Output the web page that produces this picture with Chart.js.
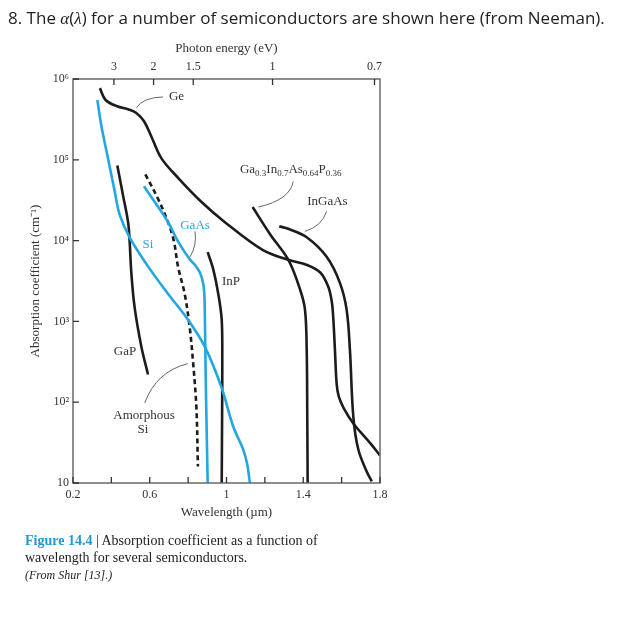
<!DOCTYPE html>
<html>
<head>
<meta charset="utf-8">
<script src="https://cdn.jsdelivr.net/npm/chart.js@4/dist/chart.umd.min.js"></script>
<style>
  body { margin: 0; background: #fff; }
  #wrap { position: relative; width: 632px; height: 620px; }
  #q { position: absolute; left: 8px; top: 6px; font: 17px "Open Sans", sans-serif; color: #222; white-space: nowrap; }
  #q i { font-family: "Liberation Serif", serif; }
  #cap { position: absolute; left: 25px; top: 532px; font: 14px "Liberation Serif", serif; color: #222; line-height: 17px; }
  #cap b { color: #1f9ad6; }
  #cap .src { font-style: italic; font-size: 12px; }
</style>
</head>
<body>
<div id="wrap">
  <canvas id="c" width="632" height="620"></canvas>
  <div id="q">8. The <i>α</i>(<i>λ</i>) for a number of semiconductors are shown here (from Neeman).</div>
  <div id="cap"><b>Figure 14.4</b> | Absorption coefficient as a function of<br>wavelength for several semiconductors.<br><span class="src">(From Shur [13].)</span></div>
</div>
<script>
// Achsen
const wavelengthTicks = [0.2, 0.4, 0.6, 0.8, 1, 1.2, 1.4, 1.6, 1.8];
const wavelengthLabels = [0.2, 0.6, 1, 1.4, 1.8];
const energyTicks = [3, 2, 1.5, 1, 0.7];
const alphaTicks = [10, 1e2, 1e3, 1e4, 1e5, 1e6];

// Kurven (Wellenlänge in µm, alpha in 1/cm)
const geLam   = [0.34, 0.37, 0.43, 0.49, 0.53, 0.57, 0.61, 0.66, 0.75, 0.87, 0.99, 1.19, 1.32, 1.42, 1.49, 1.53, 1.548, 1.556, 1.565, 1.574, 1.585, 1.61, 1.66, 1.75, 1.80];
const geAlpha = [7.7e5, 5.5e5, 4.6e5, 4.2e5, 3.8e5, 3.0e5, 1.9e5, 1.05e5, 5.9e4, 3.0e4, 1.7e4, 7.6e3, 5.8e3, 5.0e3, 4.0e3, 2.7e3, 1.8e3, 1.15e3, 450, 170, 118, 85, 55, 31, 22];

const siLam   = [0.327, 0.347, 0.382, 0.417, 0.443, 0.495, 0.591, 0.695, 0.799, 0.886, 0.973, 1.035, 1.087, 1.108, 1.122];
const siAlpha = [5.5e5, 2.7e5, 1.05e5, 4.1e4, 2.1e4, 1.1e4, 4.8e3, 2.2e3, 1.05e3, 490, 155, 50, 26, 17, 10];

const gaasLam   = [0.570, 0.626, 0.695, 0.747, 0.81, 0.836, 0.862, 0.879, 0.885, 0.888, 0.893, 0.902];
const gaasAlpha = [4.7e4, 3.0e4, 1.7e4, 9.8e3, 5.8e3, 5.0e3, 4.0e3, 2.9e3, 2.0e3, 850, 130, 10];

const aSiLam   = [0.577, 0.643, 0.695, 0.726, 0.747, 0.782, 0.808, 0.825, 0.843, 0.851];
const aSiAlpha = [6.6e4, 3.3e4, 1.7e4, 9.8e3, 4.8e3, 2.2e3, 850, 330, 87, 16];

const gapLam   = [0.431, 0.461, 0.487, 0.495, 0.504, 0.521, 0.556, 0.591];
const gapAlpha = [8.5e4, 3.6e4, 1.7e4, 1.0e4, 4.0e3, 1.5e3, 490, 220];

const inpLam   = [0.902, 0.931, 0.957, 0.975, 0.978, 0.977, 0.975];
const inpAlpha = [7.2e3, 4.4e3, 2.2e3, 1.05e3, 330, 63, 10];

const gainasLam   = [1.136, 1.227, 1.322, 1.383, 1.409, 1.418, 1.421, 1.423];
const gainasAlpha = [2.6e4, 1.2e4, 5.8e3, 2.5e3, 1.4e3, 450, 63, 10];

const ingaasLam   = [1.275, 1.322, 1.418, 1.522, 1.591, 1.626, 1.643, 1.661, 1.687, 1.730, 1.757];
const ingaasAlpha = [1.5e4, 1.4e4, 1.1e4, 6.3e3, 3.0e3, 1.4e3, 450, 66, 26, 14, 10.5];

// Beschriftungen: [text, lambda, alpha, farbe, ausrichtung]
const curveLabels = [
  ["Ge", 0.70, 6.0e5, "#333", "left"],
  ["GaAs", 0.836, 1.55e4, "#22a7e0", "center"],
  ["Si", 0.591, 8.9e3, "#22a7e0", "center"],
  ["InP", 1.023, 3.1e3, "#333", "center"],
  ["GaP", 0.471, 420, "#333", "center"],
  ["Amorphous", 0.570, 69, "#333", "center"],
  ["Si", 0.565, 46, "#333", "center"],
  ["InGaAs", 1.526, 3.0e4, "#333", "center"]
];
// Ga0.3In0.7As0.64P0.36 mit Indizes
const quatLabel = [["Ga", "0.3"], ["In", "0.7"], ["As", "0.64"], ["P", "0.36"]];
const quatPos = [1.070, 7.5e4];

// Hinweislinien: start, kontrollpunkt, ende
const leaders = [
  [[0.53, 4.4e5], [0.565, 5.9e5], [0.669, 6.0e5]],
  [[0.81, 6.3e3], [0.846, 8.7e3], [0.836, 1.3e4]],
  [[0.799, 300], [0.634, 240], [0.574, 98]],
  [[1.166, 2.6e4], [1.331, 3.2e4], [1.348, 5.4e4]],
  [[1.409, 1.3e4], [1.496, 1.5e4], [1.522, 2.3e4]]
];

const BLACK = "#1c1c1c";
const BLUE = "#22a7e0";
const sup = { 2: "\u00b2", 3: "\u00b3", 4: "\u2074", 5: "\u2075", 6: "\u2076" };

function pts(lam, alpha) {
  return lam.map((l, i) => ({ x: l, y: alpha[i] }));
}
function curve(lam, alpha, color, dash) {
  return {
    data: pts(lam, alpha),
    borderColor: color,
    borderWidth: 2.6,
    borderDash: dash || [],
    pointRadius: 0,
    tension: 0.35,
    fill: false
  };
}

const decor = {
  id: "decor",
  afterDatasetsDraw(chart) {
    const { ctx, chartArea: a, scales } = chart;
    const x = scales.x, x2 = scales.x2, y = scales.y;
    const P = (l, v) => [x.getPixelForValue(l), y.getPixelForValue(v)];
    ctx.save();

    // Rahmen
    ctx.strokeStyle = "#6a6a6a";
    ctx.lineWidth = 1.5;
    ctx.strokeRect(a.left, a.top, a.right - a.left, a.bottom - a.top);

    // Ticks nach innen
    ctx.strokeStyle = "#333";
    ctx.lineWidth = 1.3;
    ctx.beginPath();
    x.ticks.forEach(t => {
      const px = x.getPixelForValue(t.value);
      ctx.moveTo(px, a.bottom); ctx.lineTo(px, a.bottom - 6);
    });
    x2.ticks.forEach(t => {
      const px = x2.getPixelForValue(t.value);
      ctx.moveTo(px, a.top); ctx.lineTo(px, a.top + 6);
    });
    y.ticks.forEach(t => {
      const py = y.getPixelForValue(t.value);
      ctx.moveTo(a.left, py); ctx.lineTo(a.left + 6, py);
    });
    ctx.stroke();

    // Hinweislinien
    ctx.strokeStyle = "#555";
    ctx.lineWidth = 0.9;
    leaders.forEach(([s, c, e]) => {
      const [sx, sy] = P(s[0], s[1]);
      const [cx, cy] = P(c[0], c[1]);
      const [ex, ey] = P(e[0], e[1]);
      ctx.beginPath();
      ctx.moveTo(sx, sy);
      ctx.quadraticCurveTo(cx, cy, ex, ey);
      ctx.stroke();
    });

    // Texte
    ctx.font = "13px 'Liberation Serif', serif";
    ctx.textBaseline = "middle";
    curveLabels.forEach(([txt, l, v, col, al]) => {
      const [px, py] = P(l, v);
      ctx.fillStyle = col;
      ctx.textAlign = al;
      ctx.fillText(txt, px, py);
    });

    let [qx, qy] = P(quatPos[0], quatPos[1]);
    ctx.fillStyle = "#333";
    ctx.textAlign = "left";
    quatLabel.forEach(([el, n]) => {
      ctx.font = "13px 'Liberation Serif', serif";
      ctx.fillText(el, qx, qy);
      qx += ctx.measureText(el).width;
      ctx.font = "9px 'Liberation Serif', serif";
      ctx.fillText(n, qx, qy + 4);
      qx += ctx.measureText(n).width;
    });

    ctx.restore();
  }
};

const tickFont = { family: "'Liberation Serif', serif", size: 12 };
const titleFont = { family: "'Liberation Serif', serif", size: 13 };
const noGrid = { display: false, drawTicks: false, tickLength: 0 };

new Chart(document.getElementById("c"), {
  type: "line",
  data: {
    datasets: [
      curve(geLam, geAlpha, BLACK),
      curve(siLam, siAlpha, BLUE),
      curve(gaasLam, gaasAlpha, BLUE),
      curve(aSiLam, aSiAlpha, BLACK, [5, 3.5]),
      curve(gapLam, gapAlpha, BLACK),
      curve(inpLam, inpAlpha, BLACK),
      curve(gainasLam, gainasAlpha, BLACK),
      curve(ingaasLam, ingaasAlpha, BLACK)
    ]
  },
  options: {
    responsive: false,
    animation: false,
    layout: { padding: { left: 20, top: 38, right: 252, bottom: 97 } },
    plugins: { legend: { display: false }, tooltip: { enabled: false } },
    scales: {
      x: {
        type: "linear", position: "bottom", min: 0.2, max: 1.8,
        grid: noGrid, border: { display: false },
        afterBuildTicks: s => { s.ticks = wavelengthTicks.map(v => ({ value: v })); },
        afterFit: s => { s.height = 40; },
        ticks: {
          autoSkip: false, maxRotation: 0, padding: 5, color: "#333", font: tickFont,
          callback: v => wavelengthLabels.includes(v) ? String(v) : ""
        },
        title: { display: true, text: "Wavelength (\u00b5m)", color: "#333", font: titleFont, padding: { top: 0, bottom: 3 } }
      },
      x2: {
        type: "linear", position: "top", min: 0.2, max: 1.8,
        grid: noGrid, border: { display: false },
        afterBuildTicks: s => { s.ticks = energyTicks.map(E => ({ value: 1.24 / E })); },
        afterFit: s => { s.height = 41; },
        ticks: {
          autoSkip: false, maxRotation: 0, padding: 5, color: "#333", font: tickFont,
          callback: (v, i) => String(energyTicks[i])
        },
        title: { display: true, text: "Photon energy (eV)", color: "#333", font: titleFont, padding: { top: 3, bottom: 0 } }
      },
      y: {
        type: "logarithmic", min: 10, max: 1e6,
        grid: noGrid, border: { display: false },
        afterBuildTicks: s => { s.ticks = alphaTicks.map(v => ({ value: v })); },
        afterFit: s => { s.width = 53; },
        ticks: {
          autoSkip: false, padding: 4, color: "#333", font: tickFont,
          callback: v => {
            const p = Math.round(Math.log10(v));
            return p === 1 ? "10" : "10" + sup[p];
          }
        },
        title: { display: true, text: "Absorption coefficient (cm\u207b\u00b9)", color: "#333", font: titleFont, padding: { top: 8, bottom: 0 } }
      }
    }
  },
  plugins: [decor]
});
</script>
</body>
</html>
